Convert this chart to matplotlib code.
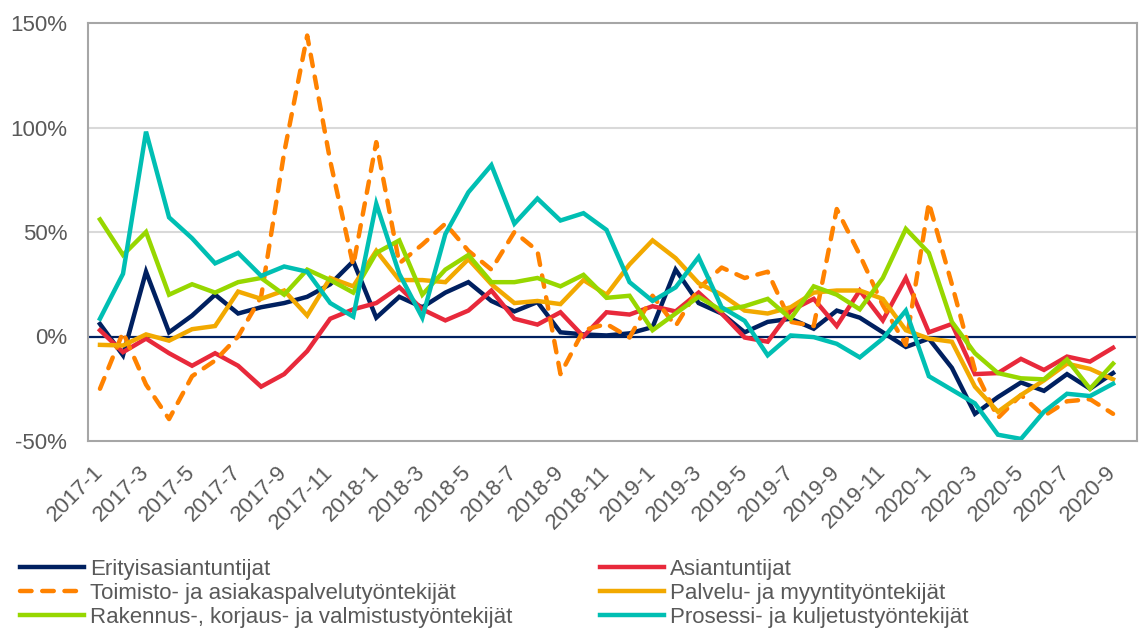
import matplotlib
matplotlib.use("Agg")
import matplotlib.pyplot as plt

plt.rcParams['font.family'] = ['Liberation Sans', 'DejaVu Sans']

# months 2017-1 ... 2020-9
months = [f"{y}-{m}" for y in range(2017, 2021) for m in range(1, 13)][:45]

# yearly change (%) per occupational group
erityisasiantuntijat = [6, -9, 31, 2, 10, 20, 11, 14, 16, 19, 25, 36, 9, 19, 14,
                        21, 26, 17, 12, 16.5, 2, 1, 0.5, 1.5, 4.5, 32, 16, 11, 2, 7,
                        8.5, 3.7, 12.4, 9, 2, -5, -1, -15, -37, -29, -22, -26, -18, -25, -17.5]
asiantuntijat = [3, -7.5, -1, -8, -14, -8, -14, -24, -18, -7, 8.5, 13, 16, 23.6, 13,
                 7.7, 12.4, 22, 8.5, 5.7, 11.6, 0, 11.6, 10.5, 14.5, 12, 21, 11, -0.5, -2.5,
                 12.4, 18, 5, 22, 7.7, 28, 2, 6, -18, -17.5, -10.7, -16, -9.6, -12, -5.4]
toimisto = [-25, 2, -23, -39.5, -19, -11.5, 0, 19, 88, 144, 84, 34, 93, 35, 44,
            54, 41, 32, 50, 41, -18, 3, 6, -0.5, 19.5, 5, 23, 33, 28, 31,
            7, 5, 61, 39, 15, -4, 64, 25, -16, -39, -28, -38, -31, -30, -37]
palvelu = [-4, -4.3, 1, -2, 3.5, 5, 21.5, 18, 22, 10, 28, 24, 41, 27, 27,
           26, 37, 25, 16, 17, 15.5, 27, 20, 34.5, 46, 37.5, 25.5, 20, 12.4, 11,
           14, 21, 22, 22, 18, 3, -1, -2.5, -24, -36, -28, -21, -13, -15.5, -20.5]
rakennus = [56, 39, 50, 20, 25, 21, 26, 28, 20, 32, 27, 21, 40, 46, 20,
            32, 39, 26, 26, 28, 24, 29.5, 18.5, 19.5, 3, 11, 19, 12.4, 14.5, 18,
            8.5, 24, 20, 13, 28, 51.5, 40, 7, -8, -17.5, -20, -20.5, -11, -25, -13]
prosessi = [8.5, 30, 98, 57, 47, 35, 40, 29, 33.5, 31, 16, 9.5, 63.5, 30, 9,
            49, 69, 82, 54, 66, 55.5, 59, 51, 26, 17, 23.5, 38, 14, 7.5, -9,
            0.5, -0.3, -3.5, -10, -1, 12.4, -19, -25.5, -32, -47, -49, -36, -27.4, -28.5, -22.6]

labels = ['Erityisasiantuntijat', 'Asiantuntijat',
          'Toimisto- ja asiakaspalvelutyöntekijät', 'Palvelu- ja myyntityöntekijät',
          'Rakennus-, korjaus- ja valmistustyöntekijät', 'Prosessi- ja kuljetustyöntekijät']
series = [erityisasiantuntijat, asiantuntijat, toimisto, palvelu, rakennus, prosessi]
colors = ['#002060', '#E8293B', '#FF8200', '#F2A900', '#97D700', '#00BFB3']

ytick_vals = [-50, 0, 50, 100, 150]
ytick_labels = ['-50%', '0%', '50%', '100%', '150%']

text_col = '#595959'

fig = plt.figure(figsize=(11.39, 6.30), dpi=100)
ax = fig.add_axes([88/1139, 1 - 441/630, (1137 - 88)/1139, (441 - 23)/630])

x = list(range(len(months)))

# gridlines + zero line
for g in [50, 100]:
    ax.axhline(g, color='#D9D9D9', lw=1.5, zorder=1)
ax.axhline(0, color='#002060', lw=1.6, zorder=1.5)

handles = []
for vals, lab, col in zip(series, labels, colors):
    if lab.startswith('Toimisto'):
        line, = ax.plot(x, vals, color=col, lw=3.2, label=lab, zorder=2,
                        dashes=(2.6, 2.4), dash_capstyle='round')
    else:
        line, = ax.plot(x, vals, color=col, lw=3.2, label=lab, zorder=2,
                        solid_joinstyle='miter')
    handles.append(line)

ax.set_xlim(-0.52, 45.04)
ax.set_ylim(-50, 150)
ax.set_yticks(ytick_vals)
ax.set_yticklabels(ytick_labels, fontsize=16, color=text_col)
ax.set_xticks(x[::2])
ax.set_xticklabels(months[::2], fontsize=16, color=text_col, rotation=45,
                   ha='right', va='center', rotation_mode='anchor')
ax.tick_params(axis='y', length=0, pad=15)
ax.tick_params(axis='x', length=0, pad=20)

for s in ax.spines.values():
    s.set_color('#A6A6A6')
    s.set_linewidth(1.5)

# legend in two columns, placed separately
leg_kw = dict(frameon=False, fontsize=16, handlelength=2.9, handletextpad=0.25,
              labelspacing=0.14, borderpad=0, borderaxespad=0, loc='upper left',
              labelcolor=text_col)
leg1 = fig.legend([handles[0], handles[2], handles[4]], [labels[0], labels[2], labels[4]],
                  bbox_to_anchor=(20/1139, 0.113), **leg_kw)
leg2 = fig.legend([handles[1], handles[3], handles[5]], [labels[1], labels[3], labels[5]],
                  bbox_to_anchor=(600/1139, 0.113), **leg_kw)

fig.savefig('out.png', dpi=100)
